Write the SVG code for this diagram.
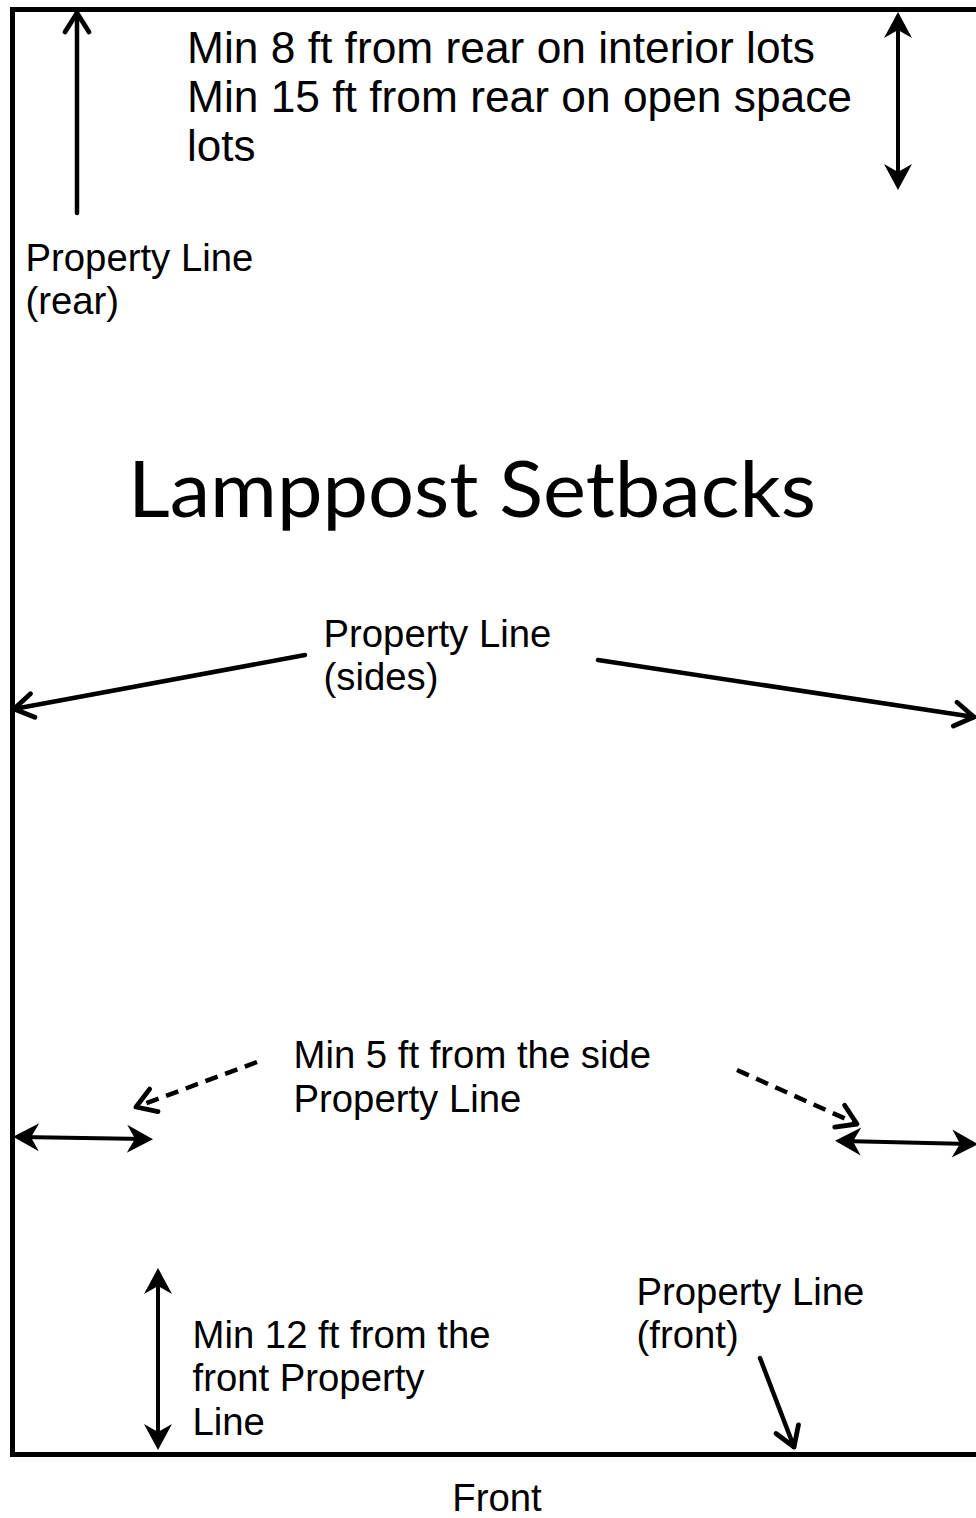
<svg xmlns="http://www.w3.org/2000/svg" width="976" height="1518" viewBox="0 0 976 1518">
<style>
.t{font-family:"Liberation Sans",Arial,sans-serif;fill:#000}
.big{font-size:44px}
.lab{font-size:38.3px}
.title{font-family:Lato,"Open Sans",sans-serif;font-size:77px;fill:#000}
.ln{stroke:#000;fill:none}
.solid{stroke-width:4.5;stroke-linecap:round}
.dbl{stroke-width:4;stroke-linecap:butt}
.dash{stroke-width:4.5;stroke-dasharray:13 8;stroke-linecap:butt}
</style>
<defs>
<marker id="open" markerUnits="userSpaceOnUse" orient="auto" refX="0" refY="0" markerWidth="40" markerHeight="40" overflow="visible">
<path d="M-19,-12 L0,0 L-19,12" fill="none" stroke="#000" stroke-width="4.8" stroke-linecap="round" stroke-linejoin="round" stroke-dasharray="none"/>
</marker>
<marker id="fill" markerUnits="userSpaceOnUse" orient="auto-start-reverse" refX="0" refY="0" markerWidth="40" markerHeight="40" overflow="visible">
<path d="M8,0 L-18,-14 L-10,0 L-18,14 Z" fill="#000" stroke="none"/>
</marker>
</defs>
<rect x="0" y="0" width="976" height="1518" fill="#fff"/>
<g id="border">
<path d="M990,9.5 H12.5 V1454.5 H990" fill="none" stroke="#000" stroke-width="5" stroke-linejoin="miter"/>
</g>
<g id="connectors">
<line class="ln solid" x1="77" y1="213" x2="77" y2="13" marker-end="url(#open)"/>
<line class="ln dbl" x1="898" y1="20" x2="898" y2="182" marker-start="url(#fill)" marker-end="url(#fill)"/>
<line class="ln solid" x1="305" y1="655" x2="14" y2="709" marker-end="url(#open)"/>
<line class="ln solid" x1="598" y1="660" x2="974" y2="717" marker-end="url(#open)"/>
<line class="ln dash" x1="257" y1="1062" x2="136" y2="1107" marker-end="url(#open)"/>
<line class="ln dbl" x1="21" y1="1137" x2="145" y2="1139" marker-start="url(#fill)" marker-end="url(#fill)"/>
<line class="ln dash" x1="737" y1="1070" x2="857" y2="1124" marker-end="url(#open)"/>
<line class="ln dbl" x1="843" y1="1141" x2="970" y2="1144" marker-start="url(#fill)" marker-end="url(#fill)"/>
<line class="ln dbl" x1="158" y1="1276" x2="158" y2="1442" marker-start="url(#fill)" marker-end="url(#fill)"/>
<line class="ln solid" x1="760" y1="1358" x2="794" y2="1447" marker-end="url(#open)"/>
</g>
<g id="rear-setback">
<text class="t big" x="187" y="62.5" textLength="628" lengthAdjust="spacingAndGlyphs">Min 8 ft from rear on interior lots</text>
<text class="t big" x="187" y="111.5" textLength="665" lengthAdjust="spacingAndGlyphs">Min 15 ft from rear on open space</text>
<text class="t big" x="187" y="160.5">lots</text>
</g>
<g id="rear-line">
<text class="t lab" x="25.5" y="271">Property Line</text>
<text class="t lab" x="25.5" y="314">(rear)</text>
</g>
<g id="title">
<text class="title" x="128" y="517" textLength="688" lengthAdjust="spacingAndGlyphs">Lamppost Setbacks</text>
</g>
<g id="side-lines">
<text class="t lab" x="323.5" y="647">Property Line</text>
<text class="t lab" x="323.5" y="690">(sides)</text>
</g>
<g id="side-setback">
<text class="t lab" x="293.5" y="1068">Min 5 ft from the side</text>
<text class="t lab" x="293.5" y="1112">Property Line</text>
</g>
<g id="front-setback">
<text class="t lab" x="192.5" y="1348">Min 12 ft from the</text>
<text class="t lab" x="192.5" y="1391">front Property</text>
<text class="t lab" x="192.5" y="1435">Line</text>
</g>
<g id="front-line">
<text class="t lab" x="636.5" y="1305">Property Line</text>
<text class="t lab" x="636.5" y="1348">(front)</text>
</g>
<g id="front">
<text class="t lab" x="497" y="1511" text-anchor="middle">Front</text>
</g>
</svg>
